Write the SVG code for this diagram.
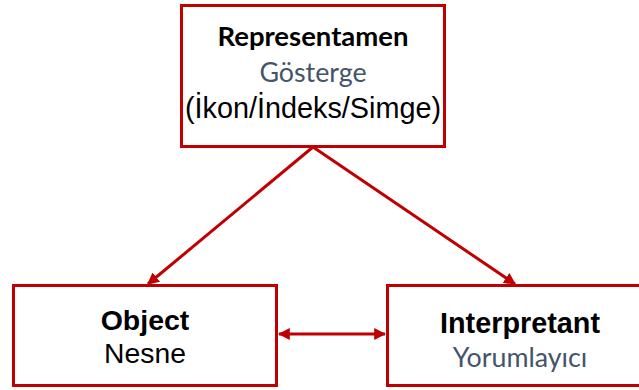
<svg xmlns="http://www.w3.org/2000/svg" width="639" height="390" viewBox="0 0 639 390">
  <style>
    .box { fill: #ffffff; stroke: #c00000; stroke-width: 3; }
    .link { stroke: #c00000; stroke-width: 3; fill: none; }
    .title { font-family: "Lato", "Open Sans", sans-serif; font-weight: bold; fill: #000000; text-anchor: middle; }
    .sub { font-family: "Lato", "Open Sans", sans-serif; fill: #44546a; text-anchor: middle; }
    .arial { font-family: "Liberation Sans", Arial, sans-serif; fill: #000000; text-anchor: middle; }
  </style>
  <defs>
    <marker id="head" viewBox="0 0 10 10" refX="9" refY="5" markerWidth="4" markerHeight="4" orient="auto-start-reverse" markerUnits="strokeWidth">
      <path d="M0,0 L10,5 L0,10 Z" fill="#c00000"/>
    </marker>
  </defs>

  <rect width="639" height="390" fill="#ffffff"/>

  <g id="connectors">
    <line class="link" x1="313" y1="147" x2="148" y2="284" marker-end="url(#head)"/>
    <line class="link" x1="313" y1="147" x2="515" y2="284" marker-end="url(#head)"/>
    <line class="link" x1="279" y1="334" x2="385" y2="334" marker-start="url(#head)" marker-end="url(#head)"/>
  </g>

  <g id="representamen">
    <rect class="box" x="181.5" y="5.5" width="263" height="141"/>
    <text class="title" x="313" y="46" font-size="27.5">Representamen</text>
    <text class="sub" x="313" y="82" font-size="26.8">Gösterge</text>
    <text class="arial" x="313" y="118" font-size="28.8">(İkon/İndeks/Simge)</text>
  </g>

  <g id="object">
    <rect class="box" x="13.5" y="285.5" width="263" height="100"/>
    <text class="arial" x="145" y="330" font-size="28.5" font-weight="bold">Object</text>
    <text class="arial" x="145" y="363" font-size="28.3">Nesne</text>
  </g>

  <g id="interpretant">
    <rect class="box" x="387.5" y="285.5" width="266" height="100"/>
    <text class="arial" x="520" y="333" font-size="28.8" font-weight="bold">Interpretant</text>
    <text class="sub" x="520" y="367" font-size="26.8">Yorumlayıcı</text>
  </g>
</svg>
